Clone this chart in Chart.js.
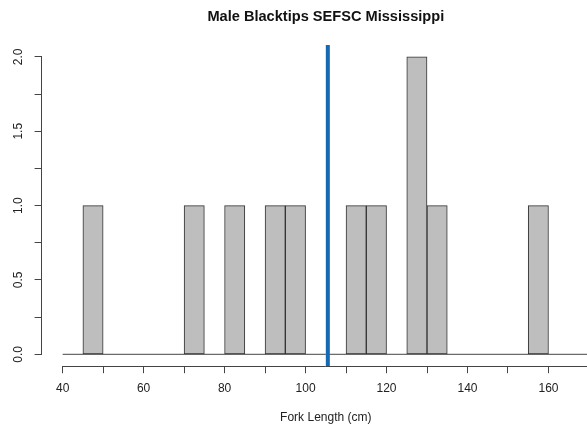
<!DOCTYPE html>
<html>
<head>
<meta charset="utf-8">
<script src="https://cdn.jsdelivr.net/npm/chart.js@4/dist/chart.umd.min.js"></script>
<style>
  html, body { margin: 0; padding: 0; background: #ffffff; overflow: hidden; }
  #wrap { width: 587px; height: 430px; overflow: hidden; position: relative; }
  #c { display: block; }
</style>
</head>
<body>
<div id="wrap"><canvas id="c" width="610" height="430"></canvas></div>
<script>
// ---- data ----
const binEdges = [40, 45, 50, 55, 60, 65, 70, 75, 80, 85, 90, 95, 100, 105, 110, 115, 120, 125, 130, 135, 140, 145, 150, 155, 160, 165, 170];
const binCounts = [0, 1, 0, 0, 0, 0, 1, 0, 1, 0, 1, 1, 0, 0, 1, 1, 0, 2, 1, 0, 0, 0, 0, 1, 0, 0];
const meanLength = 105.5;
const xTicks = [40, 50, 60, 70, 80, 90, 100, 110, 120, 130, 140, 150, 160, 170];
const xTickLabels = ['40', '', '60', '', '80', '', '100', '', '120', '', '140', '', '160', ''];
const yTicks = [0, 0.25, 0.5, 0.75, 1, 1.25, 1.5, 1.75, 2];
const yTickLabels = ['0.0', '', '0.5', '', '1.0', '', '1.5', '', '2.0'];
const xLimits = [34.8, 175.2];
const yLimits = [-0.08, 2.08];
const titleText = 'Male Blacktips SEFSC Mississippi';
const xTitle = 'Fork Length (cm)';

// ---- build datasets ----
const barData = binCounts.map((c, i) => ({ x: (binEdges[i] + binEdges[i + 1]) / 2, y: c }));
const baseData = [{ x: binEdges[0], y: 0 }, { x: binEdges[binEdges.length - 1], y: 0 }];
const meanData = [{ x: meanLength, y: yLimits[0] }, { x: meanLength, y: yLimits[1] }];

const AXIS = '#444444';
Chart.defaults.font.family = '"Liberation Sans", Arial, sans-serif';
Chart.defaults.color = '#222222';

const rAxes = {
  id: 'rAxes',
  afterDraw(chart) {
    const { ctx, chartArea, scales } = chart;
    const x = scales.x, y = scales.y;
    ctx.save();
    ctx.strokeStyle = AXIS;
    ctx.lineWidth = 1;
    ctx.beginPath();
    const yb = Math.round(chartArea.bottom) + 0.5;
    ctx.moveTo(x.getPixelForValue(xTicks[0]), yb);
    ctx.lineTo(x.getPixelForValue(xTicks[xTicks.length - 1]), yb);
    const xl = Math.round(chartArea.left) - 0.5;
    ctx.moveTo(xl, y.getPixelForValue(yTicks[0]));
    ctx.lineTo(xl, y.getPixelForValue(yTicks[yTicks.length - 1]));
    ctx.stroke();
    ctx.restore();
  }
};

new Chart(document.getElementById('c'), {
  type: 'bar',
  data: {
    datasets: [
      {
        type: 'bar',
        data: barData,
        backgroundColor: '#bebebe',
        borderColor: '#333333',
        borderWidth: 1,
        borderSkipped: false,
        categoryPercentage: 1,
        barPercentage: 1,
        order: 1
      },
      {
        type: 'line',
        data: baseData,
        borderColor: AXIS,
        borderWidth: 1,
        pointRadius: 0,
        fill: false,
        order: 2
      },
      {
        type: 'line',
        data: meanData,
        borderColor: '#1569b3',
        borderWidth: 4,
        pointRadius: 0,
        fill: false,
        order: 0
      }
    ]
  },
  options: {
    responsive: false,
    animation: false,
    events: [],
    layout: { padding: { left: 5, right: 0, top: 0, bottom: 0 } },
    plugins: {
      legend: { display: false },
      tooltip: { enabled: false },
      title: {
        display: true,
        text: titleText,
        fullSize: false,
        color: '#111111',
        font: { size: 14.6, weight: 'bold' },
        padding: { top: 8.2, bottom: 19.3 }
      }
    },
    scales: {
      x: {
        type: 'linear',
        min: xLimits[0],
        max: xLimits[1],
        offset: false,
        afterBuildTicks: (s) => { s.ticks = xTicks.map(v => ({ value: v })); },
        ticks: {
          autoSkip: false,
          maxRotation: 0,
          padding: 7.8,
          font: { size: 12 },
          color: '#222222',
          callback: (v, i) => xTickLabels[i]
        },
        grid: {
          display: true,
          drawOnChartArea: false,
          drawTicks: true,
          tickLength: 7,
          color: AXIS,
          offset: false
        },
        border: { display: false },
        title: {
          display: true,
          text: xTitle,
          color: '#222222',
          font: { size: 12 },
          padding: { top: 7.6, bottom: 4.8 }
        }
      },
      y: {
        type: 'linear',
        min: yLimits[0],
        max: yLimits[1],
        afterBuildTicks: (s) => { s.ticks = yTicks.map(v => ({ value: v })); },
        ticks: {
          autoSkip: false,
          minRotation: 90,
          maxRotation: 90,
          crossAlign: 'center',
          padding: 7.6,
          font: { size: 12 },
          color: '#222222',
          callback: (v, i) => yTickLabels[i]
        },
        grid: {
          display: true,
          drawOnChartArea: false,
          drawTicks: true,
          tickLength: 7,
          color: AXIS
        },
        border: { display: false }
      }
    }
  },
  plugins: [rAxes]
});
</script>
</body>
</html>
